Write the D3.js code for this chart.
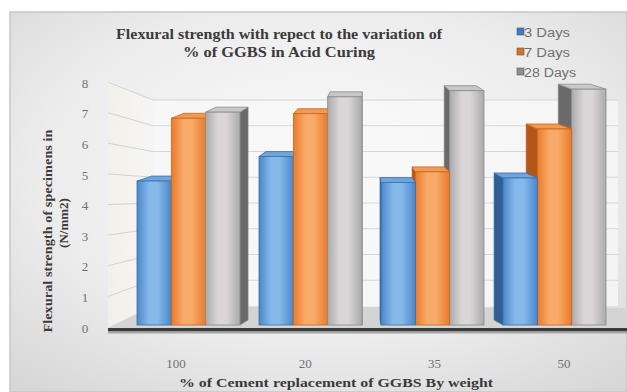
<!DOCTYPE html>
<html>
<head>
<meta charset="utf-8">
<script src="https://cdn.jsdelivr.net/npm/d3@7/dist/d3.min.js"></script>
<style>
  html, body { margin: 0; padding: 0; background: #ffffff; }
  svg { display: block; }
</style>
</head>
<body>
<svg id="chart" width="627" height="392"></svg>
<script>
// Flexural strength (N/mm2) per GGBS replacement level and curing age
const categories = ["100", "20", "35", "50"];
const seriesNames = ["3 Days", "7 Days", "28 Days"];
const threeDays = [4.7, 5.5, 4.65, 4.8];
const sevenDays = [6.75, 6.9, 5.0, 6.4];
const twentyEightDays = [6.95, 7.45, 7.65, 7.7];
const yTicks = [0, 1, 2, 3, 4, 5, 6, 7, 8];

const seriesValues = [threeDays, sevenDays, twentyEightDays];

const palette = {
  "3 Days":  { edge: "#4a87c9", mid: "#86b9ea", side: "#2f5f93", top: "#6fa5dc", stroke: "#3a6fa8", key: "#3d7cc6" },
  "7 Days":  { edge: "#ea7a2c", mid: "#f8ab68", side: "#b3561a", top: "#f19a52", stroke: "#c9651f", key: "#d9712b" },
  "28 Days": { edge: "#ababab", mid: "#dad6d8", side: "#6a6a6a", top: "#c8c8c8", stroke: "#8a8a8a", key: "#8d8d8d" }
};

const svg = d3.select("#chart");
const W = 627, H = 392;
const defs = svg.append("defs");

// panel background: light centre fading to grey edges
const bg = defs.append("radialGradient").attr("id", "bgGrad")
  .attr("cx", "50%").attr("cy", "42%").attr("r", "75%");
bg.append("stop").attr("offset", "0%").attr("stop-color", "#fbfbfb");
bg.append("stop").attr("offset", "60%").attr("stop-color", "#ececec");
bg.append("stop").attr("offset", "100%").attr("stop-color", "#d6d6d6");

seriesNames.forEach((s, i) => {
  const g = defs.append("linearGradient").attr("id", "front" + i)
    .attr("x1", "0%").attr("x2", "100%").attr("y1", "0%").attr("y2", "0%");
  g.append("stop").attr("offset", "0%").attr("stop-color", palette[s].edge);
  g.append("stop").attr("offset", "35%").attr("stop-color", palette[s].mid);
  g.append("stop").attr("offset", "60%").attr("stop-color", palette[s].mid);
  g.append("stop").attr("offset", "100%").attr("stop-color", palette[s].edge);
});

const wallGrad = defs.append("linearGradient").attr("id", "leftWall")
  .attr("x1", "0%").attr("x2", "100%");
wallGrad.append("stop").attr("offset", "0%").attr("stop-color", "#f3f1e8");
wallGrad.append("stop").attr("offset", "100%").attr("stop-color", "#f6f6f6");

svg.append("rect").attr("x", 10).attr("y", 12).attr("width", W - 10).attr("height", H - 12)
  .attr("fill", "url(#bgGrad)").attr("stroke", "#c6c6c6").attr("stroke-width", 1.5);

// scales: front plane for the bars, back wall for the gridlines
const y = d3.scaleLinear().domain([0, 8]).range([325, 80]);
const yBack = d3.scaleLinear().domain([0, 8]).range([306, 100]);
const wallLeftFront = 108, wallLeftBack = 153, wallRight = 618;

const x0 = d3.scaleBand().domain(categories).range([127, 616])
  .paddingInner(0.156).paddingOuter(0.082);
const x1 = d3.scaleBand().domain(seriesNames).range([0, x0.bandwidth()]);

// perspective: side faces lean towards a vanishing column
const vanishX = 365, persp = 0.065, depthUp = 5;

// left wall and back wall
svg.append("polygon")
  .attr("points", [[wallLeftFront, y(8)], [wallLeftBack, yBack(8)], [wallLeftBack, yBack(0)], [wallLeftFront, y(0) + 2]].join(" "))
  .attr("fill", "url(#leftWall)").attr("opacity", 0.8);
svg.append("rect").attr("x", wallLeftBack).attr("y", yBack(8))
  .attr("width", wallRight - wallLeftBack).attr("height", yBack(0) - yBack(8))
  .attr("fill", "#f8f8f8").attr("opacity", 0.75);

const grid = svg.append("g");
yTicks.filter(v => v > 0).forEach(v => {
  grid.append("line")
    .attr("x1", wallLeftFront).attr("y1", y(v) + 2)
    .attr("x2", wallLeftBack).attr("y2", yBack(v))
    .attr("stroke", "#d2d2d2").attr("stroke-width", 1);
  grid.append("line")
    .attr("x1", wallLeftBack).attr("y1", yBack(v))
    .attr("x2", wallRight).attr("y2", yBack(v))
    .attr("stroke", "#d6d6d6").attr("stroke-width", 1.2);
});

// floor
svg.append("polygon")
  .attr("points", [[wallLeftFront, y(0) + 3], [W, y(0) + 3], [W, yBack(0) + 2], [wallLeftBack, yBack(0)]].join(" "))
  .attr("fill", "#d4d4d4");
svg.append("rect").attr("x", wallLeftFront).attr("y", y(0) + 3)
  .attr("width", W - wallLeftFront).attr("height", 3.5).attr("fill", "#3b3b3b");
svg.append("rect").attr("x", wallLeftFront).attr("y", y(0) + 6.5)
  .attr("width", W - wallLeftFront).attr("height", 2).attr("fill", "#a5a5a5");

// bars
const bars = svg.append("g");
categories.forEach((cat, ci) => {
  const groupCenter = x0(cat) + x0.bandwidth() / 2;
  const leftSide = groupCenter < vanishX;
  let order = seriesNames.map((s, si) => si);
  if (!leftSide) order = order.reverse();
  order.forEach(si => {
    const s = seriesNames[si];
    const v = seriesValues[si][ci];
    const xa = x0(cat) + x1(s), xb = xa + x1.bandwidth();
    const top = y(v), bottom = y(0);
    const dxa = (vanishX - xa) * persp, dxb = (vanishX - xb) * persp;
    const g = bars.append("g");
    // side face (right side on the left half, left side on the right half)
    const ex = leftSide ? xb : xa;
    const edx = leftSide ? dxb : dxa;
    g.append("polygon")
      .attr("points", [[ex, top], [ex + edx, top - depthUp], [ex + edx, bottom - depthUp], [ex, bottom]].join(" "))
      .attr("fill", palette[s].side).attr("stroke", palette[s].stroke).attr("stroke-width", 0.6);
    // top face
    g.append("polygon")
      .attr("points", [[xa, top], [xa + dxa, top - depthUp], [xb + dxb, top - depthUp], [xb, top]].join(" "))
      .attr("fill", palette[s].top).attr("stroke", palette[s].stroke).attr("stroke-width", 0.8);
    // front face
    g.append("rect").attr("x", xa).attr("y", top)
      .attr("width", xb - xa).attr("height", bottom - top)
      .attr("fill", "url(#front" + si + ")")
      .attr("stroke", palette[s].stroke).attr("stroke-width", 0.8);
  });
});

// value axis labels
const yAxis = d3.axisLeft(y).tickValues(yTicks).tickSize(0).tickPadding(0).tickFormat(d3.format("d"));
const yAxisG = svg.append("g").attr("transform", "translate(89,3)").call(yAxis);
yAxisG.select(".domain").remove();
yAxisG.selectAll("text")
  .attr("font-family", "'Liberation Serif', 'DejaVu Serif', serif")
  .attr("font-size", 13).attr("fill", "#707070").attr("text-anchor", "middle").attr("dx", -4);

// category labels, nudged outward along the floor perspective
const catLabels = svg.append("g");
categories.forEach(cat => {
  const c = x0(cat) + x0.bandwidth() / 2;
  catLabels.append("text")
    .attr("x", c + (c - vanishX) * 0.06 - 2).attr("y", 368)
    .attr("text-anchor", "middle")
    .attr("font-family", "'Liberation Serif', 'DejaVu Serif', serif")
    .attr("font-size", 13).attr("fill", "#707070")
    .text(cat);
});

// titles
const serif = "'Liberation Serif', 'Times New Roman', serif";
svg.append("text").attr("x", 279).attr("y", 39).attr("text-anchor", "middle")
  .attr("font-family", serif).attr("font-weight", "bold").attr("font-size", 14)
  .attr("fill", "#3a3a3a").attr("textLength", 326).attr("lengthAdjust", "spacingAndGlyphs")
  .text("Flexural strength with repect  to the variation  of");
svg.append("text").attr("x", 279).attr("y", 57).attr("text-anchor", "middle")
  .attr("font-family", serif).attr("font-weight", "bold").attr("font-size", 14)
  .attr("fill", "#3a3a3a").attr("textLength", 192).attr("lengthAdjust", "spacingAndGlyphs")
  .text("% of GGBS in Acid  Curing");

svg.append("text").attr("x", 336).attr("y", 387).attr("text-anchor", "middle")
  .attr("font-family", serif).attr("font-weight", "bold").attr("font-size", 13.5)
  .attr("fill", "#3a3a3a").attr("textLength", 314).attr("lengthAdjust", "spacingAndGlyphs")
  .text("% of Cement  replacement  of GGBS By weight");

svg.append("text").attr("transform", "translate(52,231) rotate(-90)").attr("text-anchor", "middle")
  .attr("font-family", serif).attr("font-weight", "bold").attr("font-size", 13)
  .attr("fill", "#3a3a3a").attr("textLength", 203).attr("lengthAdjust", "spacingAndGlyphs")
  .text("Flexural  strength  of specimens  in");
svg.append("text").attr("transform", "translate(68,223) rotate(-90)").attr("text-anchor", "middle")
  .attr("font-family", serif).attr("font-weight", "bold").attr("font-size", 13)
  .attr("fill", "#3a3a3a")
  .text("(N/mm2)");

// legend
const legend = svg.append("g").attr("transform", "translate(517,32)");
seriesNames.forEach((s, i) => {
  const row = legend.append("g").attr("transform", `translate(0,${i * 20})`);
  row.append("rect").attr("x", 0).attr("y", -4).attr("width", 7).attr("height", 7)
    .attr("fill", palette[s].key).attr("stroke", "#5a5a5a").attr("stroke-width", 0.6);
  row.append("text").attr("x", 7).attr("y", 4.5)
    .attr("font-family", "'Liberation Sans', 'DejaVu Sans', sans-serif")
    .attr("font-size", 12.5).attr("fill", "#707070")
    .attr("textLength", s === "28 Days" ? 52 : 46).attr("lengthAdjust", "spacingAndGlyphs")
    .text(s);
});
</script>
</body>
</html>
